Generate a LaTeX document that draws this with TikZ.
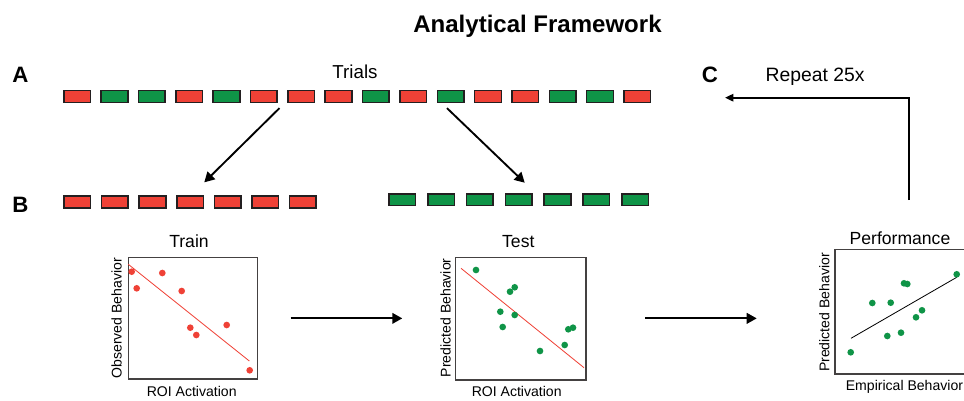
\documentclass[tikz,border=0pt]{standalone}
\usepackage{fontspec}
\setmainfont{Liberation Sans}
\usetikzlibrary{positioning,arrows.meta}

\definecolor{trialred}{HTML}{EF4136}
\definecolor{trialgreen}{HTML}{0F9447}
\definecolor{edge}{HTML}{231F20}

\begin{document}
\begin{tikzpicture}[x=0.03cm, y=-0.03cm, node distance={1.12cm},
    box/.style = {draw=edge, line width=1.4pt, minimum width=0.8cm, minimum height=0.35cm, inner sep=0pt},
    redbox/.style = {box, fill=trialred},
    greenbox/.style = {box, fill=trialgreen},
    frame/.style = {draw=edge!85, line width=1pt, inner sep=0pt},
    reddot/.style = {circle, fill=trialred, minimum size=0.2cm, inner sep=0pt},
    greendot/.style = {circle, fill=trialgreen, minimum size=0.2cm, inner sep=0pt},
    arr/.style = {line width=1.6pt, -{Triangle[length=0.3cm, width=0.32cm]}},
    letter/.style = {font=\fontsize{19}{22}\selectfont\bfseries, anchor=base},
    head/.style = {font=\fontsize{15}{18}\selectfont, anchor=base},
    axis/.style = {font=\fontsize{12}{14}\selectfont, anchor=base}]
            \clip (0,0) rectangle (964,401);

            \node[font=\fontsize{20.5}{24}\selectfont\bfseries, anchor=base] (title) at (537.5,33) {Analytical Framework};

            \node[letter] (A) at (20.5,83) {A};
            \node[letter] (B) at (20.5,212) {B};
            \node[letter] (C) at (710,82.5) {C};

            \node[font=\fontsize{16}{19}\selectfont, anchor=base] (trials) at (355,79) {Trials};
            \node[font=\fontsize{16.5}{19}\selectfont, anchor=base] (repeat) at (815,82) {Repeat 25x};

            % all trials
            \node[redbox] (a1) at (77.3,96.5) {};
            \node[greenbox] (a2) [right of=a1] {};
            \node[greenbox] (a3) [right of=a2] {};
            \node[redbox] (a4) [right of=a3] {};
            \node[greenbox] (a5) [right of=a4] {};
            \node[redbox] (a6) [right of=a5] {};
            \node[redbox] (a7) [right of=a6] {};
            \node[redbox] (a8) [right of=a7] {};
            \node[greenbox] (a9) [right of=a8] {};
            \node[redbox] (a10) [right of=a9] {};
            \node[greenbox] (a11) [right of=a10] {};
            \node[redbox] (a12) [right of=a11] {};
            \node[redbox] (a13) [right of=a12] {};
            \node[greenbox] (a14) [right of=a13] {};
            \node[greenbox] (a15) [right of=a14] {};
            \node[redbox] (a16) [right of=a15] {};

            % train trials
            \node[redbox] (b1) at (77.3,202) {};
            \node[redbox, node distance=1.128cm] (b2) [right of=b1] {};
            \node[redbox, node distance=1.128cm] (b3) [right of=b2] {};
            \node[redbox, node distance=1.128cm] (b4) [right of=b3] {};
            \node[redbox, node distance=1.128cm] (b5) [right of=b4] {};
            \node[redbox, node distance=1.128cm] (b6) [right of=b5] {};
            \node[redbox, node distance=1.128cm] (b7) [right of=b6] {};

            % test trials
            \node[greenbox] (c1) at (402.3,199.7) {};
            \node[greenbox, node distance=1.164cm] (c2) [right of=c1] {};
            \node[greenbox, node distance=1.164cm] (c3) [right of=c2] {};
            \node[greenbox, node distance=1.164cm] (c4) [right of=c3] {};
            \node[greenbox, node distance=1.164cm] (c5) [right of=c4] {};
            \node[greenbox, node distance=1.164cm] (c6) [right of=c5] {};
            \node[greenbox, node distance=1.164cm] (c7) [right of=c6] {};

            \draw[arr] ([xshift=0.04cm, yshift=-0.15cm]a6.south east) -- ([yshift=0.39cm]b4.north east);
            \draw[arr] ([xshift=-0.11cm, yshift=-0.15cm]a11.south) -- ([xshift=0.18cm, yshift=0.31cm]c4.north);

            % train plot
            \node[frame, minimum width=3.87cm, minimum height=3.65cm] (train) at (192.8,318.2) {};
            \node[head] (traintitle) at (189,247.7) {Train};
            \node[axis] (trainx) at (191.7,396.7) {ROI Activation};
            \node[axis, rotate=90] (trainy) at (121.7,318.3) {Observed Behavior};
            \draw[trialred, line width=0.7pt] (128.3,264.3) -- (249.3,361);
            \node[reddot] (r1) at (131.7,271.7) {};
            \node[reddot] (r2) at (136.7,288.3) {};
            \node[reddot] (r3) at (162.3,273) {};
            \node[reddot] (r4) at (181.7,291) {};
            \node[reddot] (r5) at (190.3,327.7) {};
            \node[reddot] (r6) at (196.3,335) {};
            \node[reddot] (r7) at (226.7,325) {};
            \node[reddot] (r8) at (249.7,370.3) {};

            % test plot
            \node[frame, minimum width=3.91cm, minimum height=3.68cm] (test) at (520.9,318.7) {};
            \node[head] (testtitle) at (518.3,247.7) {Test};
            \node[axis] (testx) at (516.7,396.7) {ROI Activation};
            \node[axis, rotate=90] (testy) at (450.7,317.8) {Predicted Behavior};
            \draw[trialred, line width=0.7pt] (461,268.3) -- (584,367.7);
            \node[greendot] (g1) at (476,270) {};
            \node[greendot] (g2) at (510,291.7) {};
            \node[greendot] (g3) at (514.7,287.3) {};
            \node[greendot] (g4) at (500.3,311.7) {};
            \node[greendot] (g5) at (514.7,315) {};
            \node[greendot] (g6) at (502.7,327) {};
            \node[greendot] (g7) at (540,351) {};
            \node[greendot] (g8) at (564.7,345) {};
            \node[greendot] (g9) at (568.3,329.3) {};
            \node[greendot] (g10) at (573,327.7) {};

            % performance plot
            \node[frame, minimum width=3.99cm, minimum height=3.74cm] (perf) at (901.5,311.7) {};
            \node[head] (perftitle) at (900,244.3) {Performance};
            \node[axis, anchor=base west] (perfx) at (841.7,390) {Empirical Behavior};
            \node[axis, rotate=90] (perfy) at (829.3,312.5) {Predicted Behavior};
            \draw[black, line width=0.7pt] (851,338.3) -- (956.7,277.3);
            \node[greendot] (p1) at (850.7,352.3) {};
            \node[greendot] (p2) at (872.3,303) {};
            \node[greendot] (p3) at (890.7,302.7) {};
            \node[greendot] (p4) at (904,283.3) {};
            \node[greendot] (p5) at (907.3,284) {};
            \node[greendot] (p6) at (887.3,336) {};
            \node[greendot] (p7) at (901,332.7) {};
            \node[greendot] (p8) at (916,317.3) {};
            \node[greendot] (p9) at (922,310.3) {};
            \node[greendot] (p10) at (956.7,274.3) {};

            \draw[arr] ([xshift=0.98cm, yshift=-0.005cm]train.east) -- ++(111.7,0);
            \draw[arr] ([xshift=1.75cm, yshift=0.01cm]test.east) -- ++(111.7,0);

            \coordinate (loop) at (909,200);
            \coordinate (back) at (725,97.7);
            \draw[arr, -{Triangle[length=0.25cm, width=0.22cm]}] (loop) |- (back);
\end{tikzpicture}
\end{document}
